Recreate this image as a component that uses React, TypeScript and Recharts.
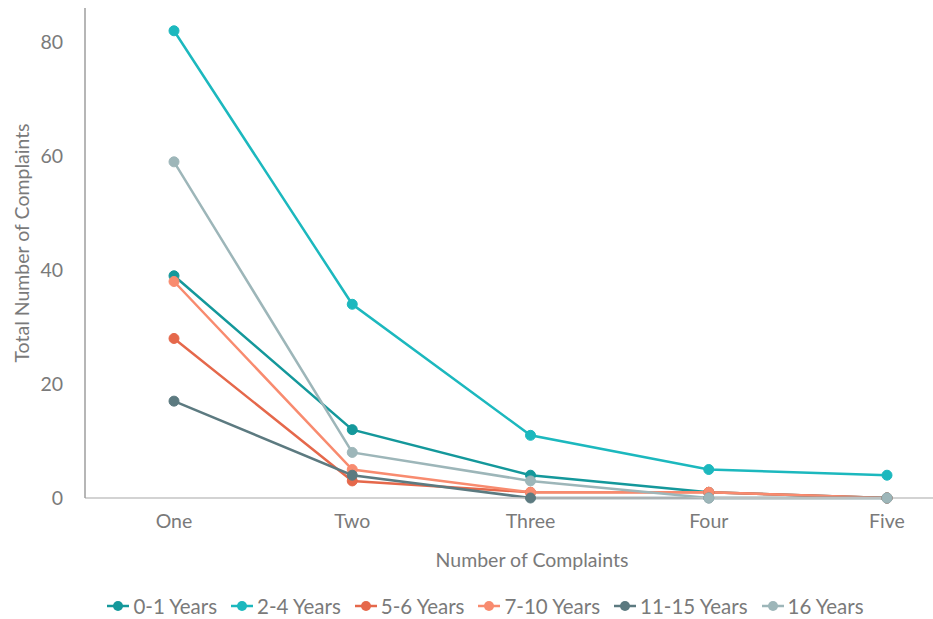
import React from 'react';
import { LineChart, Line, XAxis, YAxis, Legend } from 'recharts';

const categories = ['One', 'Two', 'Three', 'Four', 'Five'];
const years0to1 = [39, 12, 4, 1, 0];
const years2to4 = [82, 34, 11, 5, 4];
const years5to6 = [28, 3, 1, 1, 0];
const years7to10 = [38, 5, 1, 1, 0];
const years11to15 = [17, 4, 0, 0, 0];
const years16 = [59, 8, 3, 0, 0];
const yTicks = [0, 20, 40, 60, 80];

const seriesDefs = [
  { key: 's0', name: '0-1 Years', values: years0to1, color: '#14989b' },
  { key: 's1', name: '2-4 Years', values: years2to4, color: '#1cb8be' },
  { key: 's2', name: '5-6 Years', values: years5to6, color: '#e5684b' },
  { key: 's3', name: '7-10 Years', values: years7to10, color: '#f88b6f' },
  { key: 's4', name: '11-15 Years', values: years11to15, color: '#5c7a80' },
  { key: 's5', name: '16 Years', values: years16, color: '#9db6b9' },
];

const data = categories.map((c, i) => {
  const row: Record<string, any> = { name: c };
  seriesDefs.forEach((s) => {
    row[s.key] = s.values[i];
  });
  return row;
});

const FONT = 'Lato, sans-serif';
const TEXT = '#7a7a7a';
const FS = 19.5;

const LegendContent = () => (
  <div
    style={{
      display: 'flex',
      justifyContent: 'center',
      alignItems: 'center',
      paddingTop: 26,
      paddingLeft: 52,
      fontFamily: FONT,
      fontSize: 20.5,
      color: TEXT,
    }}
  >
    {seriesDefs.map((s) => (
      <div key={s.key} style={{ display: 'flex', alignItems: 'center', marginRight: 14 }}>
        <svg width={22} height={12} style={{ marginRight: 4 }}>
          <line x1={0} y1={6} x2={22} y2={6} stroke={s.color} strokeWidth={2.5} />
          <circle cx={11} cy={6} r={5} fill={s.color} />
        </svg>
        <span>{s.name}</span>
      </div>
    ))}
  </div>
);

export default function App() {
  return (
    <div style={{ position: 'absolute', left: 0, top: 0, width: 933, height: 619, background: '#fff' }}>
      <LineChart width={933} height={619} data={data} margin={{ top: 8, right: 0, bottom: 0, left: 0 }}>
        <XAxis
          dataKey="name"
          padding={{ left: 89, right: 46 }}
          axisLine={{ stroke: '#c4c4c4', strokeWidth: 1.5 }}
          tickLine={false}
          tickSize={0}
          tickMargin={16}
          height={70}
          tick={{ fill: TEXT, fontSize: FS, fontFamily: FONT }}
          label={{
            content: () => (
              <text x={532} y={567} textAnchor="middle" fill={TEXT} fontSize={FS} fontFamily={FONT}>
                Number of Complaints
              </text>
            ),
          }}
        />
        <YAxis
          domain={[0, 86]}
          ticks={yTicks}
          width={85}
          axisLine={{ stroke: '#9e9e9e', strokeWidth: 1.5 }}
          tickLine={false}
          tickSize={0}
          tickMargin={22}
          tick={{ fill: TEXT, fontSize: FS, fontFamily: FONT }}
          label={{
            content: () => (
              <text
                x={21}
                y={243}
                transform="rotate(-90 21 243)"
                textAnchor="middle"
                dominantBaseline="central"
                fill={TEXT}
                fontSize={FS}
                fontFamily={FONT}
              >
                Total Number of Complaints
              </text>
            ),
          }}
        />
        <Legend verticalAlign="bottom" height={51} content={<LegendContent />} />
        {seriesDefs.map((s) => (
          <Line
            key={s.key}
            dataKey={s.key}
            name={s.name}
            type="linear"
            stroke={s.color}
            strokeWidth={2.5}
            dot={{ r: 5, fill: s.color, stroke: s.color, strokeWidth: 1 }}
            activeDot={false}
            isAnimationActive={false}
          />
        ))}
      </LineChart>
    </div>
  );
}
